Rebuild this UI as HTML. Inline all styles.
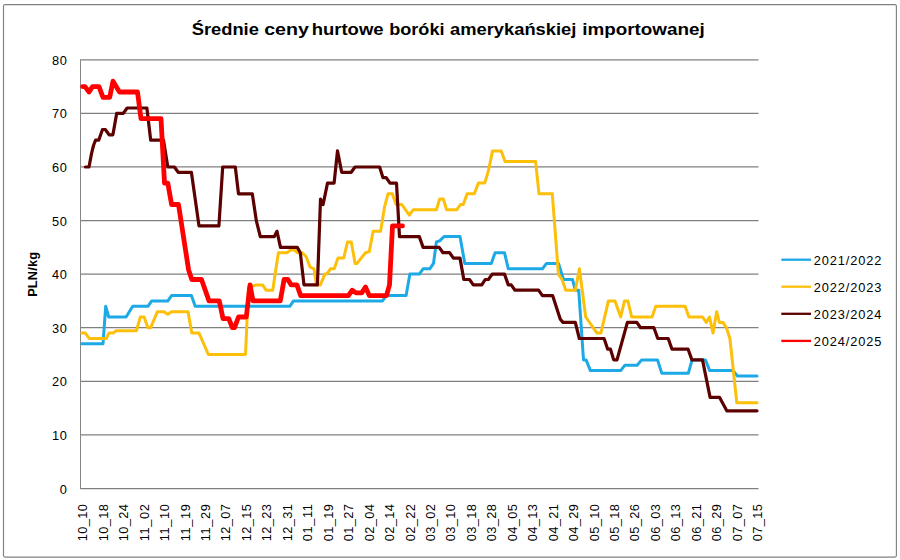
<!DOCTYPE html><html><head><meta charset="utf-8"><title>chart</title><style>html,body{margin:0;padding:0;background:#fff}svg{display:block}text{font-family:"Liberation Sans",sans-serif;fill:#000}</style></head><body>
<svg width="900" height="560" viewBox="0 0 900 560">
<rect x="0" y="0" width="900" height="560" fill="#fff"/>
<rect x="3.5" y="4.6" width="892.9" height="552.5" rx="1.5" ry="1.5" fill="none" stroke="#808080" stroke-width="1.15"/>
<line x1="80.5" y1="488.5" x2="758.5" y2="488.5" stroke="#808080" stroke-width="1.25"/>
<text x="67.4" y="493.5" font-size="12.8" letter-spacing="0.6" text-anchor="end">0</text>
<line x1="80.5" y1="434.91" x2="758.5" y2="434.91" stroke="#808080" stroke-width="1.25"/>
<text x="67.4" y="439.9" font-size="12.8" letter-spacing="0.6" text-anchor="end">10</text>
<line x1="80.5" y1="381.32" x2="758.5" y2="381.32" stroke="#808080" stroke-width="1.25"/>
<text x="67.4" y="386.3" font-size="12.8" letter-spacing="0.6" text-anchor="end">20</text>
<line x1="80.5" y1="327.74" x2="758.5" y2="327.74" stroke="#808080" stroke-width="1.25"/>
<text x="67.4" y="332.7" font-size="12.8" letter-spacing="0.6" text-anchor="end">30</text>
<line x1="80.5" y1="274.15" x2="758.5" y2="274.15" stroke="#808080" stroke-width="1.25"/>
<text x="67.4" y="279.1" font-size="12.8" letter-spacing="0.6" text-anchor="end">40</text>
<line x1="80.5" y1="220.56" x2="758.5" y2="220.56" stroke="#808080" stroke-width="1.25"/>
<text x="67.4" y="225.6" font-size="12.8" letter-spacing="0.6" text-anchor="end">50</text>
<line x1="80.5" y1="166.98" x2="758.5" y2="166.98" stroke="#808080" stroke-width="1.25"/>
<text x="67.4" y="172.0" font-size="12.8" letter-spacing="0.6" text-anchor="end">60</text>
<line x1="80.5" y1="113.39" x2="758.5" y2="113.39" stroke="#808080" stroke-width="1.25"/>
<text x="67.4" y="118.4" font-size="12.8" letter-spacing="0.6" text-anchor="end">70</text>
<line x1="80.5" y1="59.8" x2="758.5" y2="59.8" stroke="#808080" stroke-width="1.25"/>
<text x="67.4" y="64.8" font-size="12.8" letter-spacing="0.6" text-anchor="end">80</text>
<line x1="80.5" y1="59.3" x2="80.5" y2="489.0" stroke="#868686" stroke-width="1"/>
<text y="34.6" font-size="17.4" font-weight="bold"><tspan x="191.7" textLength="67.2" lengthAdjust="spacingAndGlyphs">Średnie</tspan> <tspan x="264.2" textLength="44.7" lengthAdjust="spacingAndGlyphs">ceny</tspan> <tspan x="311.7" textLength="71.9" lengthAdjust="spacingAndGlyphs">hurtowe</tspan> <tspan x="389.2" textLength="55.3" lengthAdjust="spacingAndGlyphs">boróki</tspan> <tspan x="450.0" textLength="126.4" lengthAdjust="spacingAndGlyphs">amerykańskiej</tspan> <tspan x="582.2" textLength="122.6" lengthAdjust="spacingAndGlyphs">importowanej</tspan></text>
<text transform="translate(37,296.8) rotate(-90)" font-size="12.8" font-weight="bold" textLength="44.8" lengthAdjust="spacing">PLN/kg</text>
<text transform="translate(87.3,541.2) rotate(-90)" font-size="12.8" textLength="37.2" lengthAdjust="spacing">10_10</text>
<text transform="translate(107.8,541.2) rotate(-90)" font-size="12.8" textLength="37.2" lengthAdjust="spacing">10_18</text>
<text transform="translate(128.2,541.2) rotate(-90)" font-size="12.8" textLength="37.2" lengthAdjust="spacing">10_24</text>
<text transform="translate(148.6,541.2) rotate(-90)" font-size="12.8" textLength="37.2" lengthAdjust="spacing">11_02</text>
<text transform="translate(169.1,541.2) rotate(-90)" font-size="12.8" textLength="37.2" lengthAdjust="spacing">11_10</text>
<text transform="translate(189.6,541.2) rotate(-90)" font-size="12.8" textLength="37.2" lengthAdjust="spacing">11_19</text>
<text transform="translate(210.0,541.2) rotate(-90)" font-size="12.8" textLength="37.2" lengthAdjust="spacing">11_29</text>
<text transform="translate(230.4,541.2) rotate(-90)" font-size="12.8" textLength="37.2" lengthAdjust="spacing">12_07</text>
<text transform="translate(250.9,541.2) rotate(-90)" font-size="12.8" textLength="37.2" lengthAdjust="spacing">12_15</text>
<text transform="translate(271.3,541.2) rotate(-90)" font-size="12.8" textLength="37.2" lengthAdjust="spacing">12_23</text>
<text transform="translate(291.8,541.2) rotate(-90)" font-size="12.8" textLength="37.2" lengthAdjust="spacing">12_31</text>
<text transform="translate(312.2,541.2) rotate(-90)" font-size="12.8" textLength="37.2" lengthAdjust="spacing">01_11</text>
<text transform="translate(332.7,541.2) rotate(-90)" font-size="12.8" textLength="37.2" lengthAdjust="spacing">01_19</text>
<text transform="translate(353.1,541.2) rotate(-90)" font-size="12.8" textLength="37.2" lengthAdjust="spacing">01_27</text>
<text transform="translate(373.6,541.2) rotate(-90)" font-size="12.8" textLength="37.2" lengthAdjust="spacing">02_04</text>
<text transform="translate(394.1,541.2) rotate(-90)" font-size="12.8" textLength="37.2" lengthAdjust="spacing">02_14</text>
<text transform="translate(414.5,541.2) rotate(-90)" font-size="12.8" textLength="37.2" lengthAdjust="spacing">02_22</text>
<text transform="translate(434.9,541.2) rotate(-90)" font-size="12.8" textLength="37.2" lengthAdjust="spacing">03_02</text>
<text transform="translate(455.4,541.2) rotate(-90)" font-size="12.8" textLength="37.2" lengthAdjust="spacing">03_10</text>
<text transform="translate(475.9,541.2) rotate(-90)" font-size="12.8" textLength="37.2" lengthAdjust="spacing">03_18</text>
<text transform="translate(496.3,541.2) rotate(-90)" font-size="12.8" textLength="37.2" lengthAdjust="spacing">03_28</text>
<text transform="translate(516.8,541.2) rotate(-90)" font-size="12.8" textLength="37.2" lengthAdjust="spacing">04_05</text>
<text transform="translate(537.2,541.2) rotate(-90)" font-size="12.8" textLength="37.2" lengthAdjust="spacing">04_13</text>
<text transform="translate(557.6,541.2) rotate(-90)" font-size="12.8" textLength="37.2" lengthAdjust="spacing">04_21</text>
<text transform="translate(578.1,541.2) rotate(-90)" font-size="12.8" textLength="37.2" lengthAdjust="spacing">04_29</text>
<text transform="translate(598.5,541.2) rotate(-90)" font-size="12.8" textLength="37.2" lengthAdjust="spacing">05_10</text>
<text transform="translate(619.0,541.2) rotate(-90)" font-size="12.8" textLength="37.2" lengthAdjust="spacing">05_18</text>
<text transform="translate(639.4,541.2) rotate(-90)" font-size="12.8" textLength="37.2" lengthAdjust="spacing">05_26</text>
<text transform="translate(659.9,541.2) rotate(-90)" font-size="12.8" textLength="37.2" lengthAdjust="spacing">06_03</text>
<text transform="translate(680.3,541.2) rotate(-90)" font-size="12.8" textLength="37.2" lengthAdjust="spacing">06_13</text>
<text transform="translate(700.8,541.2) rotate(-90)" font-size="12.8" textLength="37.2" lengthAdjust="spacing">06_21</text>
<text transform="translate(721.2,541.2) rotate(-90)" font-size="12.8" textLength="37.2" lengthAdjust="spacing">06_29</text>
<text transform="translate(741.7,541.2) rotate(-90)" font-size="12.8" textLength="37.2" lengthAdjust="spacing">07_07</text>
<text transform="translate(762.1,541.2) rotate(-90)" font-size="12.8" textLength="37.2" lengthAdjust="spacing">07_15</text>
<polyline points="81.8,343.8 103.0,343.8 105.7,306.3 108.7,317.0 126.1,317.0 132.7,306.3 147.9,306.3 151.7,300.9 167.8,300.9 171.6,295.6 191.4,295.6 195.2,306.3 289.8,306.3 293.5,300.9 382.5,300.9 386.3,295.6 406.1,295.6 409.9,274.1 419.3,274.1 423.1,268.8 429.8,268.8 433.5,263.4 436.4,242.0 439.6,240.9 444.0,236.6 460.0,236.6 464.8,263.4 491.3,263.4 495.1,252.7 504.5,252.7 508.3,268.8 542.4,268.8 546.5,263.4 558.5,263.4 563.5,279.5 572.5,279.5 575.3,290.2 578.7,290.2 583.5,359.9 586.1,359.9 590.4,370.6 620.7,370.6 624.9,365.2 637.2,365.2 641.6,359.9 657.5,359.9 661.8,373.3 688.3,373.3 692.1,359.9 705.4,359.9 709.7,370.6 732.8,370.6 737.5,376.0 757.0,376.0" fill="none" stroke="#1CA9E6" stroke-width="3" stroke-linejoin="round" stroke-linecap="round"/>
<polyline points="81.8,333.1 85.4,333.1 89.2,338.5 106.3,338.5 108.9,333.1 113.0,333.1 116.2,330.7 136.5,330.7 140.3,317.0 144.1,317.0 147.9,327.7 150.7,327.7 157.4,311.7 164.0,311.7 167.8,314.3 171.6,311.7 188.0,311.7 191.8,333.1 199.0,333.1 208.4,354.5 245.5,354.5 248.5,287.5 256.0,284.9 262.5,284.9 266.1,290.2 272.7,290.2 278.4,252.7 286.9,252.7 290.7,250.0 294.5,250.0 297.3,252.7 302.0,252.7 306.0,256.5 310.2,267.2 314.0,268.8 316.5,284.9 320.4,284.9 324.8,274.1 326.7,274.1 330.5,268.8 334.2,268.8 338.0,258.1 343.7,258.1 347.5,242.0 351.3,242.0 355.1,263.4 357.0,263.4 365.5,252.7 369.3,251.6 373.1,231.3 380.6,231.3 384.5,207.2 388.0,193.8 392.3,193.8 396.1,204.5 401.8,204.5 409.3,215.2 413.1,209.8 436.4,209.8 439.6,199.1 443.4,199.1 446.6,209.8 456.7,209.8 460.5,204.5 463.3,204.5 467.1,193.8 474.3,193.8 478.4,183.1 484.7,183.1 488.7,169.7 492.5,150.9 501.2,150.9 505.0,161.6 535.6,161.6 539.0,193.8 552.3,193.8 558.4,274.1 562.0,279.5 565.8,290.2 575.3,290.2 579.4,268.8 585.7,317.0 597.0,333.1 600.9,333.1 608.4,300.9 615.0,300.9 620.7,317.0 624.5,300.9 627.9,300.9 631.7,317.0 652.0,317.0 655.8,306.3 685.1,306.3 688.9,317.0 702.5,317.0 706.3,322.4 709.5,317.0 713.0,333.1 716.7,311.7 719.4,322.4 722.9,322.4 726.4,327.7 729.9,338.5 732.2,359.9 736.8,402.8 757.0,402.8" fill="none" stroke="#FCBF0A" stroke-width="3" stroke-linejoin="round" stroke-linecap="round"/>
<polyline points="85.4,167.0 89.0,167.0 91.5,153.6 93.5,145.5 95.5,140.2 98.7,140.2 102.5,129.5 105.3,129.5 109.1,134.8 112.9,134.8 116.7,113.4 123.3,113.4 127.1,108.0 146.9,108.0 150.7,140.2 163.5,140.2 167.8,167.0 174.4,167.0 178.2,172.3 191.4,172.3 199.0,225.9 218.9,225.9 222.7,167.0 235.3,167.0 238.5,193.8 252.3,193.8 256.3,220.6 260.3,236.6 274.3,236.6 277.0,231.3 280.5,247.4 297.3,247.4 300.3,252.7 304.0,284.9 317.4,284.9 320.5,199.1 323.1,204.5 327.5,183.1 334.1,183.1 337.5,150.9 341.7,172.3 351.2,172.3 355.0,167.0 379.6,167.0 383.0,177.7 386.2,177.7 390.0,183.1 396.5,183.1 399.5,236.6 419.3,236.6 423.1,247.4 439.2,247.4 443.0,252.7 449.6,252.7 453.4,258.1 460.0,258.1 463.8,279.5 469.5,279.5 473.3,284.9 481.8,284.9 485.2,279.5 488.4,279.5 492.2,274.1 504.5,274.1 508.3,284.9 511.2,284.9 515.0,290.2 538.6,290.2 542.4,295.6 552.6,295.6 560.3,319.2 563.0,322.4 575.3,322.4 579.3,338.5 604.1,338.5 607.7,349.2 610.5,349.2 613.7,359.9 617.0,359.9 627.4,322.4 636.8,322.4 640.6,327.7 653.9,327.7 657.8,338.5 668.2,338.5 672.0,349.2 688.1,349.2 691.9,359.9 702.5,359.9 710.1,397.4 719.6,397.4 726.8,410.8 757.0,410.8" fill="none" stroke="#5C0000" stroke-width="3.2" stroke-linejoin="round" stroke-linecap="round"/>
<polyline points="82.6,86.6 85.0,86.6 89.0,92.0 92.5,86.6 99.0,86.6 103.0,97.3 109.7,97.3 113.0,81.2 119.5,92.0 137.5,92.0 141.0,118.7 161.0,118.7 164.5,183.1 167.8,183.1 171.6,204.5 178.5,204.5 188.6,269.9 191.8,279.5 201.5,279.5 209.0,300.9 219.3,300.9 223.0,318.6 228.8,318.6 232.3,327.7 234.5,327.7 238.5,317.0 246.3,317.0 250.0,284.9 253.0,300.9 280.3,300.9 284.1,279.5 287.9,279.5 291.2,284.9 296.9,284.9 300.7,295.6 348.4,295.6 352.2,290.2 356.0,292.9 361.7,292.9 365.5,287.0 369.3,295.6 386.5,295.6 389.5,284.9 392.5,225.9 402.5,225.9" fill="none" stroke="#FF0000" stroke-width="4.8" stroke-linejoin="round" stroke-linecap="round"/>
<line x1="781.3" y1="259.7" x2="811" y2="259.7" stroke="#1CA9E6" stroke-width="2.3"/>
<text x="813.8" y="264.7" font-size="12.8" textLength="67.6" lengthAdjust="spacing">2021/2022</text>
<line x1="781.3" y1="286.7" x2="811" y2="286.7" stroke="#FCBF0A" stroke-width="2.3"/>
<text x="813.8" y="291.7" font-size="12.8" textLength="67.6" lengthAdjust="spacing">2022/2023</text>
<line x1="781.3" y1="313.8" x2="811" y2="313.8" stroke="#5C0000" stroke-width="2.3"/>
<text x="813.8" y="318.8" font-size="12.8" textLength="67.6" lengthAdjust="spacing">2023/2024</text>
<line x1="781.3" y1="340.9" x2="811" y2="340.9" stroke="#FF0000" stroke-width="2.3"/>
<text x="813.8" y="345.9" font-size="12.8" textLength="67.6" lengthAdjust="spacing">2024/2025</text>
</svg></body></html>
